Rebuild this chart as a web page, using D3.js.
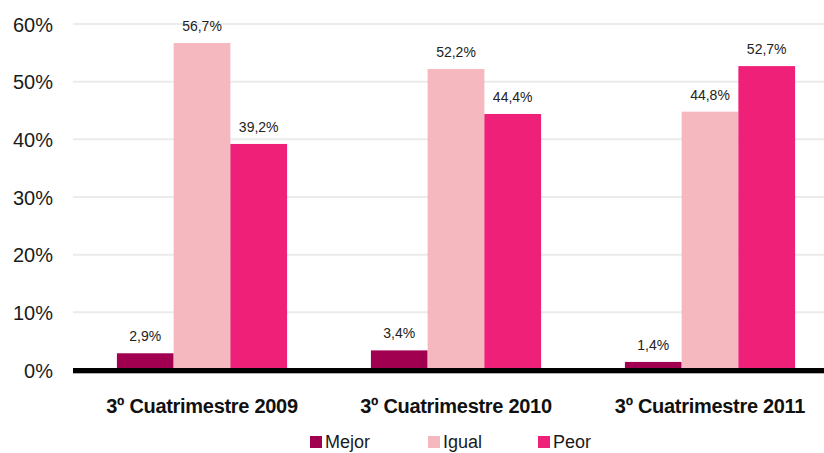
<!DOCTYPE html>
<html>
<head>
<meta charset="utf-8">
<script src="https://cdn.jsdelivr.net/npm/d3@7"></script>
<style>
  html, body { margin: 0; padding: 0; background: #fff; }
  svg { display: block; font-family: "Liberation Sans", Arial, sans-serif; }
</style>
</head>
<body>
<svg id="chart" width="824" height="453"></svg>
<script>
// Periods shown on the x axis
const categories = ["3º Cuatrimestre 2009", "3º Cuatrimestre 2010", "3º Cuatrimestre 2011"];
// Series names and their values (percent)
const seriesNames = ["Mejor", "Igual", "Peor"];
const mejor = [2.9, 3.4, 1.4];
const igual = [56.7, 52.2, 44.8];
const peor = [39.2, 44.4, 52.7];
const yTicks = [0, 10, 20, 30, 40, 50, 60];
const colors = ["#a0004f", "#f6b8bf", "#ee2077"];

const seriesValues = [mejor, igual, peor];
const svg = d3.select("#chart");
const W = 824;

const y = d3.scaleLinear().domain([0, 60]).range([370, 24]);
const x0 = d3.scaleBand().domain(categories).range([75, 837]).paddingInner(0.33).paddingOuter(0.165);
const x1 = d3.scaleBand().domain(seriesNames).range([0, x0.bandwidth()]);

const fmt = v => d3.format(".1f")(v).replace(".", ",") + "%";

// Horizontal gridlines
svg.append("g").selectAll("line").data(yTicks.filter(t => t > 0)).join("line")
  .attr("x1", 73).attr("x2", W)
  .attr("y1", d => y(d)).attr("y2", d => y(d))
  .attr("stroke", "#ebebeb").attr("stroke-width", 2);

// Y axis labels
const yAxis = d3.axisLeft(y).tickValues(yTicks).tickFormat(d => d + "%").tickSize(0).tickPadding(0);
const yg = svg.append("g").attr("transform", "translate(53,0)").call(yAxis);
yg.select(".domain").remove();
yg.selectAll("text").attr("font-size", 20).attr("fill", "#1a1a1a")
  .attr("font-family", "'Liberation Sans', Arial, sans-serif").attr("dy", "0.35em");

// Bars
const groups = svg.append("g").selectAll("g").data(categories).join("g")
  .attr("transform", d => `translate(${x0(d)},0)`);

groups.selectAll("rect").data((c, i) => seriesNames.map((s, j) => ({ s, v: seriesValues[j][i], j })))
  .join("rect")
  .attr("x", d => x1(d.s))
  .attr("width", x1.bandwidth())
  .attr("y", d => y(d.v))
  .attr("height", d => y(0) - y(d.v))
  .attr("fill", d => colors[d.j]);

// Value labels
groups.selectAll("text").data((c, i) => seriesNames.map((s, j) => ({ s, v: seriesValues[j][i] })))
  .join("text")
  .attr("x", d => x1(d.s) + x1.bandwidth() / 2)
  .attr("y", d => y(d.v) - 12)
  .attr("text-anchor", "middle")
  .attr("font-size", 14)
  .attr("fill", "#222")
  .text(d => fmt(d.v));

// Baseline
svg.append("line").attr("x1", 73).attr("x2", W).attr("y1", y(0) + 3).attr("y2", y(0) + 3)
  .attr("stroke", "#b0b0b0").attr("stroke-width", 2);
svg.append("line").attr("x1", 73).attr("x2", W).attr("y1", y(0) + 0.5).attr("y2", y(0) + 0.5)
  .attr("stroke", "#000").attr("stroke-width", 5);

// Category labels
const xAxis = d3.axisBottom(x0).tickSize(0).tickPadding(0);
const xg = svg.append("g").attr("transform", "translate(0,413)").call(xAxis);
xg.select(".domain").remove();
xg.selectAll("text").attr("font-size", 20).attr("font-weight", "bold").attr("fill", "#111")
  .attr("font-family", "'Liberation Sans', Arial, sans-serif")
  .attr("letter-spacing", "-0.3").attr("dy", 0);

// Legend
const legendX = [310, 428, 538];
const lg = svg.append("g").selectAll("g").data(seriesNames).join("g")
  .attr("transform", (d, i) => `translate(${legendX[i]},436)`);
lg.append("rect").attr("width", 12).attr("height", 12).attr("fill", (d, i) => colors[i]);
lg.append("text").attr("x", 15).attr("y", 12).attr("font-size", 18).attr("fill", "#1a1a1a").text(d => d);
</script>
</body>
</html>
